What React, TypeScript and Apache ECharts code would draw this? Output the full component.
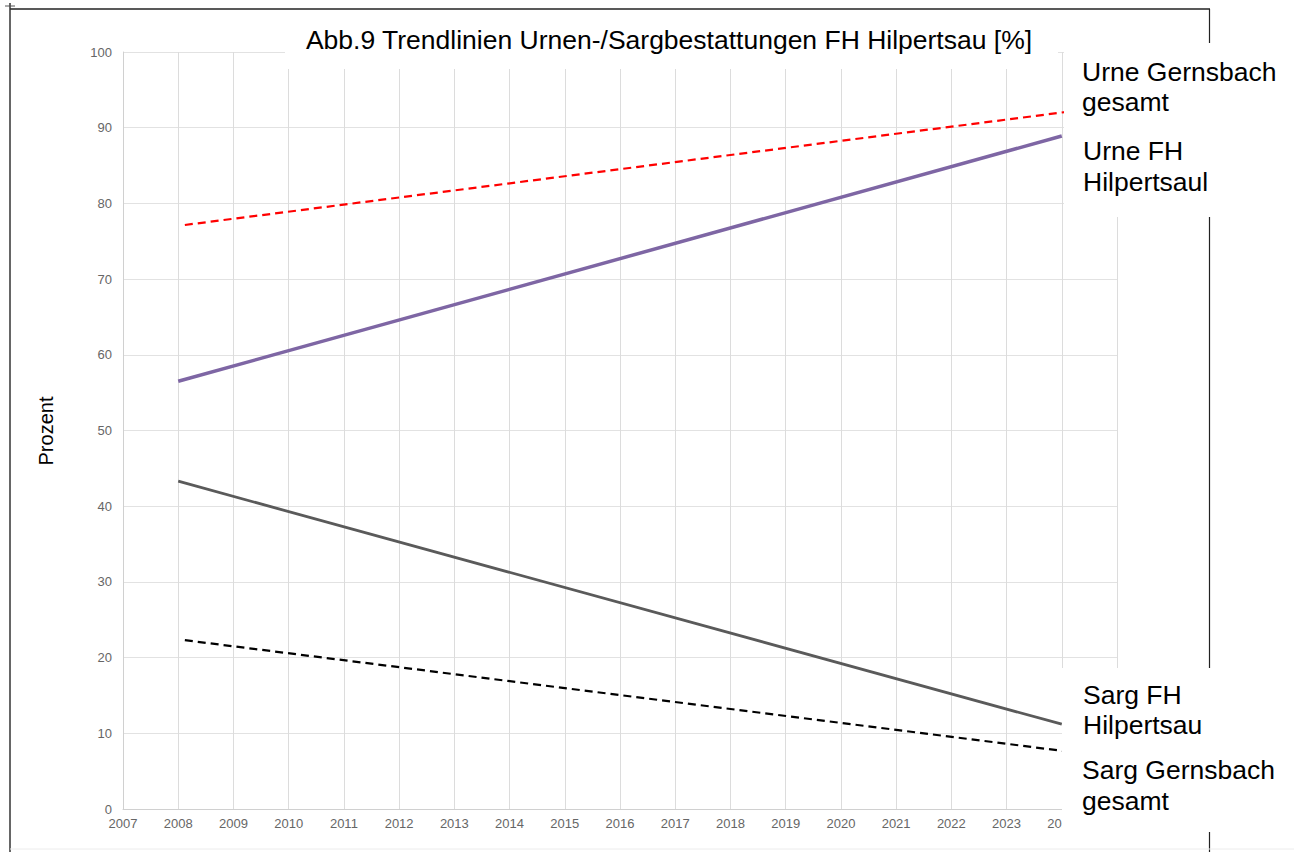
import React, { useEffect, useRef } from "react";
import * as echarts from "echarts";

const titleText = "Abb.9 Trendlinien Urnen-/Sargbestattungen FH Hilpertsau [%]";
const yAxisName = "Prozent";
const solidYears = [2008, 2024];
const dashedYears = [2008.12, 2024.1];
const urneGernsbach = [77.15, 92.1];
const urneHilpertsau = [56.5, 88.9];
const sargHilpertsau = [43.3, 11.2];
const sargGernsbach = [22.3, 7.6];
const labelUrneGernsbach = "Urne Gernsbach\ngesamt";
const labelUrneFH = "Urne FH\nHilpertsaul";
const labelSargFH = "Sarg FH\nHilpertsau";
const labelSargGernsbach = "Sarg Gernsbach\ngesamt";

const FONT = "'Liberation Sans', Arial, sans-serif";

function pairs(xs: number[], ys: number[]) {
  return xs.map((x, i) => [x, ys[i]]);
}

export default function App() {
  const ref = useRef<HTMLDivElement>(null);
  useEffect(() => {
    if (!ref.current) return;
    const chart = echarts.init(ref.current, null, { renderer: "svg" });
    const txt = (text: string, x: number, y: number, lh: number) => ({
      type: "text",
      x,
      y,
      z: 102,
      style: {
        text,
        fill: "#000",
        fontFamily: FONT,
        fontSize: 26.5,
        lineHeight: lh,
        align: "left",
        verticalAlign: "top",
      },
    });
    chart.setOption({
      animation: false,
      backgroundColor: "#fff",
      grid: { left: 123, right: 177, top: 52, bottom: 43, containLabel: false },
      xAxis: {
        type: "value",
        min: 2007,
        max: 2025,
        interval: 1,
        axisLine: { show: true, lineStyle: { color: "#d0d0d0", width: 1 } },
        axisTick: { show: false },
        axisLabel: {
          color: "#666",
          fontFamily: FONT,
          fontSize: 13,
          margin: 8,
          formatter: (v: number) => String(v),
        },
        splitLine: { show: true, lineStyle: { color: "#dcdcdc", width: 1 } },
      },
      yAxis: {
        type: "value",
        min: 0,
        max: 100,
        interval: 10,
        axisLine: { show: true, lineStyle: { color: "#d0d0d0", width: 1 } },
        axisTick: { show: false },
        axisLabel: {
          color: "#666",
          fontFamily: FONT,
          fontSize: 13,
          margin: 11,
        },
        splitLine: { show: true, lineStyle: { color: "#e2e2e2", width: 1 } },
      },
      series: [
        {
          type: "line",
          name: "Urne Gernsbach gesamt",
          data: pairs(dashedYears, urneGernsbach),
          showSymbol: false,
          lineStyle: { color: "#ff0000", width: 2.2, type: [8, 5] },
          z: 3,
        },
        {
          type: "line",
          name: "Urne FH Hilpertsau",
          data: pairs(solidYears, urneHilpertsau),
          showSymbol: false,
          lineStyle: { color: "#7e66a4", width: 3.5 },
          z: 3,
        },
        {
          type: "line",
          name: "Sarg FH Hilpertsau",
          data: pairs(solidYears, sargHilpertsau),
          showSymbol: false,
          lineStyle: { color: "#5a5a5a", width: 2.8 },
          z: 3,
        },
        {
          type: "line",
          name: "Sarg Gernsbach gesamt",
          data: pairs(dashedYears, sargGernsbach),
          showSymbol: false,
          lineStyle: { color: "#000", width: 2.2, type: [8, 5] },
          z: 3,
        },
      ],
      graphic: [
        { type: "line", z: 99, shape: { x1: 10, y1: 9, x2: 1210, y2: 9 }, style: { stroke: "#222", lineWidth: 1.5 } },
        { type: "line", z: 99, shape: { x1: 10, y1: 3, x2: 10, y2: 852 }, style: { stroke: "#333", lineWidth: 1.5 } },
        { type: "line", z: 99, shape: { x1: 5, y1: 6, x2: 15, y2: 6 }, style: { stroke: "#555", lineWidth: 1 } },
        { type: "line", z: 99, shape: { x1: 1209.5, y1: 9, x2: 1209.5, y2: 852 }, style: { stroke: "#222", lineWidth: 1.2 } },
        { type: "line", z: 99, shape: { x1: 10, y1: 849, x2: 1294, y2: 849 }, style: { stroke: "#ececec", lineWidth: 1 } },
        { type: "rect", z: 100, shape: { x: 285, y: 12, width: 773, height: 57 }, style: { fill: "#fff" } },
        { type: "rect", z: 100, shape: { x: 1064, y: 43, width: 230, height: 174 }, style: { fill: "#fff" } },
        { type: "rect", z: 100, shape: { x: 1062, y: 668, width: 232, height: 164 }, style: { fill: "#fff" } },
        {
          type: "text",
          x: 669,
          y: 40,
          z: 102,
          style: {
            text: titleText,
            fill: "#000",
            fontFamily: FONT,
            fontSize: 26.5,
            align: "center",
            verticalAlign: "middle",
          },
        },
        {
          type: "text",
          x: 46,
          y: 431,
          rotation: Math.PI / 2,
          z: 102,
          style: {
            text: yAxisName,
            fill: "#000",
            fontFamily: FONT,
            fontSize: 20,
            align: "center",
            verticalAlign: "middle",
          },
        },
        txt(labelUrneGernsbach, 1082, 57, 30),
        txt(labelUrneFH, 1083, 135, 31),
        txt(labelSargFH, 1083, 680, 30),
        txt(labelSargGernsbach, 1082, 754, 31),
      ],
    });
    return () => chart.dispose();
  }, []);
  return (
    <div
      ref={ref}
      style={{ position: "absolute", left: 0, top: 0, width: 1294, height: 852 }}
    />
  );
}
